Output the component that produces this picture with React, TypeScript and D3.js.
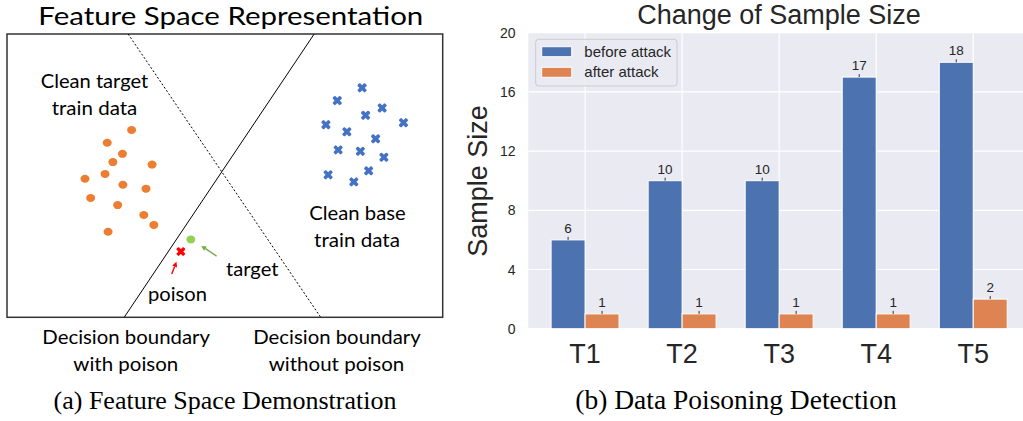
import React from 'react';
import * as d3 from 'd3';

// ---------- Right chart data ----------
const categories = ['T1', 'T2', 'T3', 'T4', 'T5'];
const beforeAttack = [6, 10, 10, 17, 18];
const afterAttack = [1, 1, 1, 1, 2];
const yTicks = [0, 4, 8, 12, 16, 20];
const seriesNames = ['before attack', 'after attack'];

// ---------- Left schematic data (feature-space units 0..100) ----------
const targetX = [28.6, 23.0, 26.5, 24.3, 33.3, 17.9, 22.5, 26.6, 31.9, 19.2, 25.4, 31.4, 33.7, 23.2];
const targetY = [66.1, 61.6, 57.7, 54.8, 53.9, 48.9, 50.6, 46.8, 45.4, 42.1, 39.6, 36.1, 32.6, 30.2];
const baseX = [81.5, 75.8, 86.1, 82.3, 73.2, 91.0, 78.0, 84.6, 76.0, 81.1, 86.5, 73.7, 83.0, 79.6];
const baseY = [81.0, 76.5, 73.9, 71.3, 68.0, 68.7, 65.5, 63.0, 59.1, 58.6, 56.5, 50.3, 51.7, 47.8];
const poisonPoint = [39.9, 23.2];
const targetPoint = [42.2, 27.5];
const poisonArrow = [[37.8, 15.3], [38.9, 19.6]];
const targetArrow = [[48.1, 21.6], [44.6, 25.2]];
const boundaryWithPoison = [[26.9, 0], [70.5, 100]];
const boundaryWithoutPoison = [[27.8, 100], [72.0, 0]];

const BLUE = '#4C72B0';
const ORANGE = '#DD8452';

function XMark({ cx, cy, size, color }: { cx: number; cy: number; size: number; color: string }) {
  const t = size * 0.36;
  const L = size * 1.41 - t;
  return (
    <g transform={`translate(${cx},${cy})`} fill={color}>
      <rect x={-L / 2} y={-t / 2} width={L} height={t} rx={t * 0.3} transform="rotate(45)" />
      <rect x={-L / 2} y={-t / 2} width={L} height={t} rx={t * 0.3} transform="rotate(-45)" />
    </g>
  );
}

function Arrow({ p0, p1, color }: { p0: number[]; p1: number[]; color: string }) {
  const [x0, y0] = p0;
  const [x1, y1] = p1;
  const ang = Math.atan2(y1 - y0, x1 - x0);
  const h = 5;
  const w = 2.6;
  const bx = x1 - h * Math.cos(ang);
  const by = y1 - h * Math.sin(ang);
  const nx = -Math.sin(ang) * w;
  const ny = Math.cos(ang) * w;
  return (
    <g>
      <line x1={x0} y1={y0} x2={bx} y2={by} stroke={color} strokeWidth={1.4} />
      <path d={`M${x1},${y1} L${bx + nx},${by + ny} L${bx - nx},${by - ny} Z`} fill={color} />
    </g>
  );
}

function LeftPanel() {
  const fx = d3.scaleLinear().domain([0, 100]).range([7, 442.7]);
  const fy = d3.scaleLinear().domain([0, 100]).range([317.3, 34]);
  const line = d3.line<number[]>().x((d) => fx(d[0])).y((d) => fy(d[1]));
  const sans = 'Lato, "Open Sans", sans-serif';
  const T = (txt: string, x0: number, x1: number, y: number, fs: number) => (
    <text
      x={(x0 + x1) / 2}
      y={y}
      fontSize={fs}
      fontFamily={sans}
      textAnchor="middle"
      textLength={x1 - x0}
      lengthAdjust="spacingAndGlyphs"
      fill="#000"
    >
      {txt}
    </text>
  );
  return (
    <g>
      {T('Feature Space Representation', 38.3, 423.3, 25, 25.5)}
      <rect x={7} y={34} width={435.7} height={283.3} fill="none" stroke="#333" strokeWidth={1.5} />
      <path d={line(boundaryWithPoison) || ''} stroke="#000" strokeWidth={1} fill="none" />
      <path d={line(boundaryWithoutPoison) || ''} stroke="#000" strokeWidth={1} strokeDasharray="2,2" fill="none" />
      {targetX.map((v, i) => (
        <ellipse key={'t' + i} cx={fx(v)} cy={fy(targetY[i])} rx={4.5} ry={4} fill="#ED7D31" />
      ))}
      {baseX.map((v, i) => (
        <XMark key={'b' + i} cx={fx(v)} cy={fy(baseY[i])} size={10} color="#4472C4" />
      ))}
      <ellipse cx={fx(targetPoint[0])} cy={fy(targetPoint[1])} rx={4.4} ry={4} fill="#92D050" />
      <XMark cx={fx(poisonPoint[0])} cy={fy(poisonPoint[1])} size={9.5} color="#FF0000" />
      <Arrow p0={[fx(poisonArrow[0][0]), fy(poisonArrow[0][1])]} p1={[fx(poisonArrow[1][0]), fy(poisonArrow[1][1])]} color="#FF0000" />
      <Arrow p0={[fx(targetArrow[0][0]), fy(targetArrow[0][1])]} p1={[fx(targetArrow[1][0]), fy(targetArrow[1][1])]} color="#70AD47" />
      {T('Clean target', 40.7, 148.3, 88.3, 20)}
      {T('train data', 51.7, 137.3, 114.5, 20)}
      {T('Clean base', 309.3, 405.7, 220, 20)}
      {T('train data', 314, 400, 246.5, 20)}
      {T('target', 226, 278.5, 276, 20)}
      {T('poison', 148, 207, 300.5, 20)}
      {T('Decision boundary', 42.3, 210, 344.3, 20)}
      {T('with poison', 73.3, 178.3, 370.5, 20)}
      {T('Decision boundary', 253.3, 420.7, 344.3, 20)}
      {T('without poison', 268.7, 404.3, 370.5, 20)}
      <text x={225} y={409} fontSize={26} fontFamily='"Liberation Serif", "DejaVu Serif", serif' textAnchor="middle" fill="#000">
        (a) Feature Space Demonstration
      </text>
    </g>
  );
}

function RightPanel() {
  const left = 528.3;
  const right = 1030;
  const top = 32.7;
  const bottom = 328.7;
  const x = d3.scaleLinear().domain([-0.585, categories.length - 1 + 0.585]).range([left, right]);
  const y = d3.scaleLinear().domain([0, 20]).range([bottom, top]);
  const bw = 0.35;
  const font = '"Liberation Sans", Arial, sans-serif';
  const dark = '#262626';
  const series = [
    { name: seriesNames[0], values: beforeAttack, color: BLUE, off: -bw },
    { name: seriesNames[1], values: afterAttack, color: ORANGE, off: 0 },
  ];
  return (
    <g>
      <rect x={left} y={top} width={right - left} height={bottom - top} fill="#EAEAF2" />
      {yTicks.map((t) => (
        <line key={'gy' + t} x1={left} x2={right} y1={y(t)} y2={y(t)} stroke="#fff" strokeWidth={1.2} />
      ))}
      {categories.map((c, i) => (
        <line key={'gx' + c} x1={x(i)} x2={x(i)} y1={top} y2={bottom} stroke="#fff" strokeWidth={1.2} />
      ))}
      {series.map((s) =>
        s.values.map((v, i) => {
          const x0 = x(i + s.off);
          const x1 = x(i + s.off + bw);
          const cx = (x0 + x1) / 2;
          return (
            <g key={s.name + i}>
              <rect x={x0} y={y(v)} width={x1 - x0} height={y(0) - y(v)} fill={s.color} stroke="#fff" strokeWidth={1} />
              <line x1={cx} x2={cx} y1={y(v) - 3} y2={y(v)} stroke="#333" strokeWidth={1} />
              <text x={cx} y={y(v) - 7} fontSize={13.5} fontFamily={font} fill={dark} textAnchor="middle">
                {v}
              </text>
            </g>
          );
        })
      )}
      {yTicks.map((t) => (
        <text key={'ty' + t} x={515.5} y={y(t)} dy="0.36em" fontSize={14} fontFamily={font} fill={dark} textAnchor="end">
          {t}
        </text>
      ))}
      {categories.map((c, i) => (
        <text key={'tx' + c} x={x(i)} y={363} fontSize={27} fontFamily={font} fill={dark} textAnchor="middle">
          {c}
        </text>
      ))}
      <text
        transform={`translate(487,181) rotate(-90)`}
        fontSize={27}
        fontFamily={font}
        fill={dark}
        textAnchor="middle"
      >
        Sample Size
      </text>
      <text x={779} y={24} fontSize={27} fontFamily={font} fill={dark} textAnchor="middle">
        Change of Sample Size
      </text>
      {/* legend */}
      <rect x={535.7} y={39.3} width={141.3} height={46.7} rx={3} fill="#EAEAF2" fillOpacity={0.8} stroke="#CCCCCC" strokeWidth={1} />
      {series.map((s, k) => (
        <g key={'lg' + k}>
          <rect x={541.7} y={46.7 + k * 20.6} width={30} height={10} fill={s.color} stroke="#fff" strokeWidth={1} />
          <text x={584.3} y={56.7 + k * 20.6} fontSize={15} fontFamily={font} fill={dark}>
            {s.name}
          </text>
        </g>
      ))}
      <text x={736} y={409} fontSize={27.5} fontFamily='"Liberation Serif", "DejaVu Serif", serif' textAnchor="middle" fill="#000">
        (b) Data Poisoning Detection
      </text>
    </g>
  );
}

export default function App() {
  return (
    <svg
      width={1023}
      height={421}
      viewBox="0 0 1023 421"
      style={{ position: 'absolute', left: 0, top: 0, background: '#fff' }}
    >
      <rect x={0} y={0} width={1023} height={421} fill="#fff" />
      <LeftPanel />
      <RightPanel />
    </svg>
  );
}
